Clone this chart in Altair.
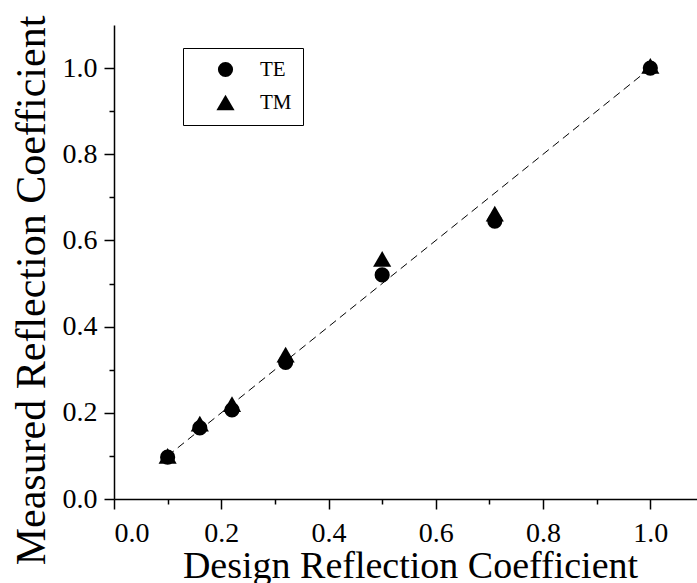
import altair as alt
import pandas as pd

design = [0.10, 0.16, 0.22, 0.32, 0.50, 0.71, 1.00]
te_measured = [0.097, 0.165, 0.207, 0.317, 0.520, 0.645, 1.000]
tm_measured = [0.100, 0.175, 0.220, 0.335, 0.557, 0.662, 1.005]
modes = ["TE", "TM"]
fit_x = [0.10, 1.00]
fit_y = [0.10, 1.00]
x_ticks = [0.0, 0.1, 0.2, 0.3, 0.4, 0.5, 0.6, 0.7, 0.8, 0.9, 1.0]
y_ticks = [0.0, 0.1, 0.2, 0.3, 0.4, 0.5, 0.6, 0.7, 0.8, 0.9, 1.0]

pts = pd.DataFrame({
    "design": design + design,
    "measured": te_measured + tm_measured,
    "mode": [modes[0]] * len(design) + [modes[1]] * len(design),
})
fit = pd.DataFrame({"design": fit_x, "measured": fit_y})

FONT = "Liberation Serif"
label_expr = "round(datum.value*10) % 2 == 0 ? format(datum.value, '.1f') : ''"
tick_cond = {"condition": {"test": "round(datum.value*10) % 2 == 0", "value": 10}, "value": 5}

x_scale = alt.Scale(domain=[0, 1.087], nice=False, zero=False)
y_scale = alt.Scale(domain=[0, 1.1], nice=False, zero=False)

x_axis = alt.Axis(
    values=x_ticks, labelExpr=label_expr, tickSize=tick_cond,
    title="Design Reflection Coefficient", grid=False,
    titleX=296, titleY=78, titleBaseline="alphabetic", titleFontSize=38,
    labelPadding=10,
)
y_axis = alt.Axis(
    values=y_ticks, labelExpr=label_expr, tickSize=tick_cond,
    title="Measured Reflection Coefficient", grid=False,
    titleX=-70, titleY=265, titleBaseline="alphabetic", titleAngle=-90, titleFontSize=42,
    labelPadding=7,
)

line = alt.Chart(fit).mark_line(color="black", strokeDash=[8, 5], strokeWidth=1).encode(
    x=alt.X("design:Q", scale=x_scale, axis=x_axis),
    y=alt.Y("measured:Q", scale=y_scale, axis=y_axis),
)

points = alt.Chart(pts).mark_point(filled=True, color="black", opacity=1).encode(
    x=alt.X("design:Q", scale=x_scale, axis=x_axis),
    y=alt.Y("measured:Q", scale=y_scale, axis=y_axis),
    shape=alt.Shape("mode:N", scale=alt.Scale(domain=modes, range=["circle", "triangle-up"]),
                    legend=alt.Legend(title=None)),
    size=alt.Size("mode:N", scale=alt.Scale(domain=modes, range=[230, 330]),
                  legend=alt.Legend(title=None)),
)

chart = alt.layer(line, points).properties(
    width=583, height=474,
    autosize=alt.AutoSizeParams(type="none"),
    padding={"left": 114, "top": 25, "right": 0, "bottom": 84},
).configure_view(stroke=None).configure_axis(
    domainColor="black", domainWidth=1.5, tickColor="black", tickWidth=1.5,
    labelFont=FONT, labelFontSize=28, labelColor="black",
    titleFont=FONT, titleColor="black", titleFontWeight="normal",
).configure_legend(
    orient="none", legendX=69, legendY=23,
    strokeColor="black", strokeWidth=1, fillColor="white",
    padding=11, symbolOffset=21, labelOffset=24, rowPadding=10,
    labelFont=FONT, labelFontSize=21, labelColor="black",
    symbolFillColor="black", symbolStrokeColor="black", symbolOpacity=1,
    cornerRadius=0,
)

chart.save("out.html", embed_options={"renderer": "svg", "actions": False})
